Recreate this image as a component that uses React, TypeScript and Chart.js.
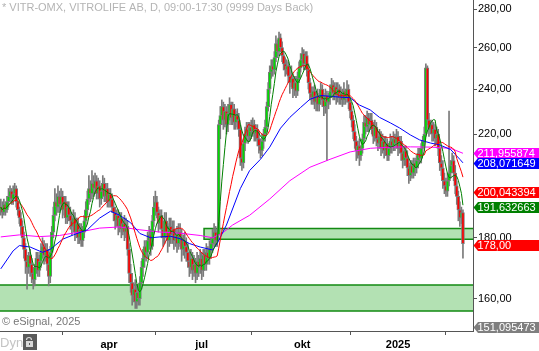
import React, { useEffect, useRef } from 'react';
import { Chart, registerables } from 'chart.js';

Chart.register(...registerables);

// ---- data (daily candles, Dec 2023 .. Feb 2025) ----
const firstOpen = 190;
const closes = [
  191, 189, 192, 190, 193, 195, 197, 194, 196, 198,
  193, 190, 187, 184, 180, 176, 172, 170, 174, 171,
  168, 166, 170, 173, 169, 172, 175, 177, 174, 176,
  171, 167, 175, 182, 188, 193, 191, 195, 192, 195,
  190, 193, 187, 191, 188, 186, 184, 187, 182, 185,
  180, 183, 179, 182, 186, 190, 194, 198, 196, 200,
  198, 201, 196, 199, 194, 197, 200, 195, 198, 193,
  196, 194, 191, 189, 186, 188, 184, 187, 183, 185,
  182, 184, 176, 168, 165, 161, 163, 159, 162, 160,
  165, 170, 173, 177, 175, 179, 181, 177, 186, 191,
  193, 189, 185, 188, 183, 180, 186, 182, 179, 184,
  181, 183, 179, 181, 178, 182, 180, 176, 179, 177,
  175, 172, 170, 173, 169, 171, 168, 172, 170, 173,
  169, 174, 171, 175, 173, 176, 178, 180, 182, 179,
  181, 224, 228, 232, 226, 230, 224, 229, 233, 227,
  231, 225, 228, 226, 222, 210, 208, 216, 220, 222,
  219, 223, 221, 224, 220, 222, 218, 215, 213, 217,
  220, 223, 232, 240, 248, 251, 249, 255, 262, 258,
  265, 260, 256, 252, 249, 251, 246, 243, 245, 240,
  243, 239, 245, 250, 254, 257, 252, 256, 249, 243,
  238, 236, 239, 234, 237, 233, 236, 240, 235, 232,
  237, 234, 236, 239, 242, 238, 241, 237, 240, 236,
  238, 235, 239, 236, 240, 234, 230, 226, 221, 217,
  213, 215, 211, 214, 218, 225, 223, 227, 224, 226,
  222, 219, 223, 218, 216, 219, 214, 217, 213, 216,
  211, 214, 217, 215, 218, 216, 219, 214, 217, 212,
  209, 213, 210, 206, 203, 207, 204, 208, 206, 209,
  212, 210, 214, 217, 220, 250, 226, 222, 224, 220,
  222, 218, 220, 214, 208, 206, 201, 199, 197, 201,
  204, 207, 209, 204, 199, 195, 190, 187, 189, 178,
];
const highs = [
  194, 193, 194, 193, 195, 198, 199, 198, 199, 200,
  199, 195, 191, 189, 186, 182, 178, 174, 175, 176,
  173, 170, 171, 175, 175, 174, 178, 180, 179, 178,
  178, 173, 177, 184, 191, 198, 196, 199, 197, 198,
  197, 195, 195, 193, 193, 191, 189, 190, 189, 187,
  187, 185, 185, 184, 188, 193, 197, 203, 201, 205,
  203, 204, 203, 202, 201, 199, 203, 202, 200, 200,
  198, 198, 196, 193, 191, 190, 190, 189, 189, 187,
  188, 187, 186, 178, 171, 168, 165, 166, 164, 164,
  167, 172, 176, 179, 179, 182, 184, 183, 188, 195,
  197, 195, 191, 190, 190, 186, 189, 189, 185, 187,
  187, 186, 186, 183, 184, 185, 185, 183, 181, 182,
  180, 178, 175, 176, 175, 174, 173, 175, 174, 176,
  175, 176, 176, 178, 177, 179, 180, 183, 185, 184,
  183, 226, 232, 235, 234, 233, 232, 233, 236, 234,
  234, 233, 230, 231, 229, 224, 214, 218, 223, 225,
  225, 225, 226, 227, 226, 224, 224, 221, 218, 220,
  222, 226, 234, 243, 251, 254, 254, 258, 266, 264,
  268, 267, 263, 258, 255, 254, 253, 249, 251, 247,
  246, 246, 248, 253, 257, 260, 259, 258, 258, 252,
  245, 241, 241, 242, 239, 240, 238, 243, 242, 238,
  240, 239, 238, 242, 245, 244, 243, 243, 243, 242,
  241, 240, 243, 240, 244, 242, 236, 232, 228, 224,
  219, 217, 218, 215, 220, 228, 228, 230, 229, 229,
  229, 225, 226, 225, 221, 222, 221, 220, 219, 219,
  218, 216, 220, 219, 221, 220, 222, 221, 219, 219,
  215, 215, 215, 213, 208, 209, 209, 210, 210, 211,
  214, 214, 216, 219, 223, 252, 251, 229, 226, 226,
  225, 224, 223, 222, 216, 211, 209, 204, 202, 204,
  230, 209, 212, 211, 207, 201, 197, 193, 191, 190,
];
const lows = [
  188, 187, 188, 188, 189, 191, 193, 192, 192, 194,
  191, 188, 185, 181, 177, 173, 168, 163, 168, 167,
  165, 163, 164, 168, 167, 167, 170, 173, 171, 172,
  169, 164, 165, 173, 180, 186, 188, 189, 189, 190,
  187, 188, 185, 185, 186, 183, 181, 182, 179, 180,
  178, 178, 177, 177, 180, 184, 188, 192, 193, 194,
  195, 196, 194, 194, 191, 192, 195, 193, 193, 191,
  191, 191, 189, 186, 183, 184, 181, 182, 180, 181,
  179, 180, 174, 165, 162, 158, 159, 157, 157, 158,
  158, 163, 167, 170, 172, 173, 176, 174, 176, 184,
  188, 187, 182, 183, 180, 177, 178, 180, 175, 177,
  178, 178, 176, 177, 175, 176, 177, 172, 174, 173,
  172, 170, 167, 168, 166, 167, 165, 166, 167, 168,
  166, 167, 169, 169, 171, 171, 173, 175, 177, 177,
  177, 181, 218, 224, 222, 223, 220, 221, 226, 224,
  224, 222, 222, 223, 219, 207, 205, 206, 213, 217,
  216, 217, 218, 219, 217, 217, 215, 212, 210, 211,
  214, 217, 221, 230, 238, 245, 246, 247, 253, 255,
  256, 258, 253, 249, 246, 247, 243, 238, 241, 236,
  237, 236, 237, 243, 248, 251, 249, 250, 246, 240,
  235, 233, 233, 231, 230, 230, 230, 233, 232, 228,
  229, 209, 231, 233, 236, 235, 235, 233, 234, 233,
  233, 232, 233, 233, 234, 231, 227, 223, 218, 214,
  209, 210, 207, 209, 212, 216, 220, 221, 221, 222,
  220, 216, 217, 215, 213, 214, 211, 212, 210, 211,
  209, 209, 212, 212, 213, 213, 214, 211, 212, 209,
  206, 207, 207, 203, 200, 201, 202, 202, 203, 204,
  206, 208, 208, 212, 215, 219, 224, 219, 220, 217,
  217, 215, 216, 211, 205, 203, 198, 196, 195, 195,
  199, 202, 205, 201, 196, 192, 186, 184, 185, 173,
];

// moving averages (long ones); short ones computed from closes
const blueIdx = [0, 8, 12, 19, 27, 32, 40, 47, 56, 64, 71, 77, 84, 90, 97, 103, 110, 116, 122, 129, 137, 140, 146, 155, 161, 168, 174, 181, 187, 194, 200, 207, 219, 226, 232, 239, 245, 252, 258, 265, 271, 278, 284, 291, 297, 299];
const blueVal = [169.5, 175.5, 177.3, 176.8, 175.0, 176.0, 179.5, 181.0, 182.8, 187.0, 189.5, 188.0, 185.3, 181.5, 180.0, 180.3, 180.5, 179.7, 178.0, 176.8, 175.8, 178.0, 184.5, 198.0, 205.0, 209.5, 214.5, 222.5, 227.2, 231.6, 235.3, 237.0, 236.3, 236.0, 232.7, 230.5, 227.2, 224.8, 222.6, 219.6, 217.5, 216.2, 215.4, 213.5, 209.5, 208.07];
const magIdx = [0, 12, 25, 38, 51, 64, 77, 90, 103, 116, 129, 137, 143, 150, 161, 174, 187, 200, 213, 226, 239, 252, 265, 278, 291, 299];
const magVal = [180.3, 181.0, 180.4, 180.8, 182.0, 183.4, 183.8, 182.8, 182.0, 181.6, 180.8, 180.0, 181.5, 184.5, 188.0, 194.0, 201.0, 206.3, 209.5, 212.5, 214.0, 214.5, 214.6, 214.5, 214.0, 211.96];
const shortPeriod = 7;
const midPeriod = 20;

const monthTickIdx = [70, 130, 195, 257];
const monthLabels = ['apr', 'jul', 'okt', '2025'];
const priceTicks = [160, 180, 220, 240, 260, 280];

const zoneLow = [156.2, 179.5];
const zoneHigh = [164.3, 183.3];
const zoneStart = [-0.5, 131.5];

const tagValues = [211.955874, 208.071649, 200.043394, 191.632663, 178.0, 151.095473];
const tagLabels = ['211,955874', '208,071649', '200,043394', '191,632663', '178,00', '151,095473'];
const tagColors = ['#ff00ff', '#0000ff', '#ff0000', '#008000', '#ff0000', '#7f7f7f'];
const tagShift = [0, 0, 9, 2, 1, -1];

const titleText = '* VITR-OMX, VITROLIFE AB, D, 09:00-17:30 (9999 Days Back)';
const footText = '\u00A9 eSignal, 2025';

const FONT = '"Liberation Sans", Arial, sans-serif';
const UP = '#00dd00';
const DOWN = '#ff0000';
const GREY = '#7a7a7a';

function sma(arr: number[], n: number): number[] {
  return arr.map((_, i) => {
    const s = Math.max(0, i - n + 1);
    let t = 0;
    for (let k = s; k <= i; k++) t += arr[k];
    return t / (i - s + 1);
  });
}

const zonePlugin = {
  id: 'zones',
  beforeDatasetsDraw(chart: any) {
    const { ctx, chartArea, scales } = chart;
    const x = scales.x;
    const y = scales.y;
    ctx.save();
    for (let k = 0; k < zoneLow.length; k++) {
      const x0 = Math.max(chartArea.left, x.getPixelForValue(zoneStart[k]));
      const x1 = chartArea.right;
      const yt = y.getPixelForValue(zoneHigh[k]);
      const yb = y.getPixelForValue(zoneLow[k]);
      ctx.fillStyle = '#b3e1b3';
      ctx.fillRect(x0, yt, x1 - x0, yb - yt);
      ctx.strokeStyle = '#138a13';
      ctx.lineWidth = 1.5;
      ctx.beginPath();
      ctx.moveTo(x1, yt);
      ctx.lineTo(x0, yt);
      if (x0 > chartArea.left + 1) ctx.lineTo(x0, yb);
      else ctx.moveTo(x0, yb);
      ctx.lineTo(x1, yb);
      ctx.stroke();
    }
    ctx.restore();
  },
};

const overlayPlugin = {
  id: 'overlay',
  afterDraw(chart: any) {
    const { ctx, scales } = chart;
    const y = scales.y;
    ctx.save();
    ctx.textBaseline = 'middle';
    ctx.textAlign = 'left';
    ctx.font = '11px ' + FONT;
    ctx.fillStyle = '#b4b4b4';
    ctx.fillText(titleText, 2, 8);
    ctx.fillStyle = '#777777';
    ctx.fillText(footText, 2, 322);
    ctx.font = '13px ' + FONT;
    ctx.fillStyle = '#c4c4c4';
    ctx.fillText('Dyn', 0, 343);
    // lock icon
    ctx.fillStyle = '#5a5a5a';
    ctx.fillRect(23, 334, 14, 16);
    ctx.strokeStyle = '#d8d8d8';
    ctx.lineWidth = 1.2;
    ctx.beginPath();
    ctx.arc(29, 340, 2.5, Math.PI, 0);
    ctx.stroke();
    ctx.fillStyle = '#d8d8d8';
    ctx.fillRect(26, 341, 7, 6);
    ctx.fillStyle = '#5a5a5a';
    ctx.fillRect(29, 343, 1, 2);
    // price tags
    ctx.font = '11px ' + FONT;
    for (let k = 0; k < tagValues.length; k++) {
      const yy = Math.round(y.getPixelForValue(tagValues[k]) + tagShift[k]) + 0.5;
      ctx.fillStyle = tagColors[k];
      ctx.beginPath();
      ctx.moveTo(473.5, yy);
      ctx.lineTo(478, yy - 5.5);
      ctx.lineTo(539, yy - 5.5);
      ctx.lineTo(539, yy + 5.5);
      ctx.lineTo(478, yy + 5.5);
      ctx.closePath();
      ctx.fill();
      ctx.fillStyle = '#ffffff';
      ctx.fillText(tagLabels[k], 477.5, yy + 0.5);
    }
    ctx.restore();
  },
};

export default function App() {
  const ref = useRef<HTMLCanvasElement | null>(null);

  useEffect(() => {
    const canvas = ref.current;
    if (!canvas) return;
    Chart.defaults.font.family = FONT;

    const idx = closes.map((_, i) => i);
    const opens = closes.map((c, i) => (i === 0 ? firstOpen : closes[i - 1]));
    const shortMa = sma(closes, shortPeriod);
    const midMa = sma(closes, midPeriod);

    const chart = new Chart(canvas, {
      type: 'bar',
      data: {
        datasets: [
          {
            type: 'line',
            data: idx.map((i) => ({ x: i, y: shortMa[i] })),
            borderColor: '#008000',
            borderWidth: 1,
            pointRadius: 0,
            order: 1,
          } as any,
          {
            type: 'line',
            data: idx.map((i) => ({ x: i, y: midMa[i] })),
            borderColor: '#ff0000',
            borderWidth: 1,
            pointRadius: 0,
            order: 1,
          } as any,
          {
            type: 'line',
            data: blueIdx.map((i, k) => ({ x: i, y: blueVal[k] })),
            borderColor: '#0000ff',
            borderWidth: 1,
            pointRadius: 0,
            order: 1,
          } as any,
          {
            type: 'line',
            data: magIdx.map((i, k) => ({ x: i, y: magVal[k] })),
            borderColor: '#ff00ff',
            borderWidth: 1,
            pointRadius: 0,
            order: 1,
          } as any,
          {
            type: 'bar',
            data: idx.map((i) => ({ x: i, y: [opens[i], closes[i]] })),
            backgroundColor: idx.map((i) => (closes[i] >= opens[i] ? UP : DOWN)),
            borderColor: GREY,
            borderWidth: 1,
            borderSkipped: false,
            barThickness: 3,
            grouped: false,
            order: 2,
          } as any,
          {
            type: 'bar',
            data: idx.map((i) => ({ x: i, y: [lows[i], highs[i]] })),
            backgroundColor: GREY,
            borderWidth: 0,
            barThickness: 1,
            grouped: false,
            order: 3,
          } as any,
        ],
      },
      options: {
        animation: false,
        responsive: false,
        maintainAspectRatio: false,
        events: [],
        layout: { padding: 0, autoPadding: false } as any,
        plugins: {
          legend: { display: false },
          tooltip: { enabled: false },
          title: { display: false },
        },
        scales: {
          x: {
            type: 'linear',
            min: -0.5,
            max: 305.5,
            offset: false,
            afterBuildTicks: (s: any) => {
              s.ticks = monthTickIdx.map((v) => ({ value: v }));
            },
            afterFit: (s: any) => {
              s.height = 20;
              s.paddingLeft = 0;
              s.paddingRight = 0;
            },
            ticks: {
              autoSkip: false,
              maxRotation: 0,
              padding: 3,
              color: '#000000',
              font: { family: FONT, size: 11, weight: 'bold' },
              callback: (v: any) => {
                const k = monthTickIdx.indexOf(Number(v));
                return k >= 0 ? monthLabels[k] : '';
              },
            },
            grid: { drawOnChartArea: false, drawTicks: true, tickLength: 4, color: '#555555' },
            border: { display: true, color: '#555555', width: 1 },
          } as any,
          y: {
            type: 'logarithmic',
            position: 'right',
            min: 150.3,
            max: 285.1,
            bounds: 'data',
            afterBuildTicks: (s: any) => {
              s.ticks = priceTicks.map((v) => ({ value: v }));
            },
            afterFit: (s: any) => {
              s.width = 66;
              s.paddingTop = 0;
              s.paddingBottom = 0;
            },
            ticks: {
              autoSkip: false,
              padding: 1,
              color: '#000000',
              font: { family: FONT, size: 11 },
              callback: (v: any) => Number(v).toFixed(2).replace('.', ','),
            },
            grid: { drawOnChartArea: false, drawTicks: true, tickLength: 4, color: '#555555' },
            border: { display: true, color: '#555555', width: 1 },
          } as any,
        },
      },
      plugins: [zonePlugin, overlayPlugin],
    } as any);

    return () => chart.destroy();
  }, []);

  return (
    <div style={{ position: 'fixed', left: 0, top: 0, width: 539, height: 351, background: '#ffffff' }}>
      <canvas ref={ref} width={539} height={351} style={{ width: 539, height: 351, display: 'block' }} />
    </div>
  );
}
